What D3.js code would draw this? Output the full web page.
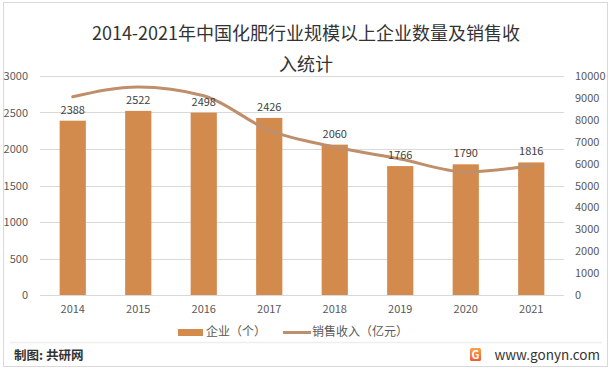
<!DOCTYPE html>
<html lang="zh">
  <head>
    <meta charset="utf-8">
    <title>化肥行业规模以上企业数量及销售收入</title>
    <script src="https://cdn.jsdelivr.net/npm/d3@7"></script>
    <style>
      body { margin: 0; background: #fff; }
      text { font-family: "Noto Sans CJK SC", "Noto Sans", sans-serif; }
      .tick text { fill: #595959; font-size: 11px; }
    </style>
  </head>
  <body>
    <script>
      var years = ["2014", "2015", "2016", "2017", "2018", "2019", "2020", "2021"];
      var companies = [2388, 2522, 2498, 2426, 2060, 1766, 1790, 1816];
      var revenue = [9050, 9500, 9100, 7520, 6760, 6210, 5620, 5900];
      var leftTicks = [0, 500, 1000, 1500, 2000, 2500, 3000];
      var rightTicks = [0, 1000, 2000, 3000, 4000, 5000, 6000, 7000, 8000, 9000, 10000];

      var W = 612, H = 370;
      var margin = {top: 76, right: 48, bottom: 75, left: 40},
          width = W - margin.left - margin.right,
          height = H - margin.top - margin.bottom;

      var svg = d3.select("body").append("svg")
        .attr("width", W).attr("height", H);

      // frame
      svg.append("rect")
        .attr("x", 3.5).attr("y", 2.5).attr("width", 604).attr("height", 364)
        .attr("fill", "none").attr("stroke", "#d9d9d9");

      // title
      svg.append("text").attr("x", 306).attr("y", 40)
        .attr("text-anchor", "middle").attr("font-size", 18).attr("fill", "#333")
        .text("2014-2021年中国化肥行业规模以上企业数量及销售收");
      svg.append("text").attr("x", 306).attr("y", 71)
        .attr("text-anchor", "middle").attr("font-size", 18).attr("fill", "#333")
        .text("入统计");

      var g = svg.append("g")
        .attr("transform", "translate(" + margin.left + "," + margin.top + ")");

      var x = d3.scaleBand().domain(years).range([0, width]).paddingInner(0.6).paddingOuter(0.3);
      var y = d3.scaleLinear().domain([0, 3000]).range([height, 0]);
      var y2 = d3.scaleLinear().domain([0, 10000]).range([height, 0]);

      // gridlines
      g.append("g").selectAll("line").data(leftTicks).enter().append("line")
        .attr("x1", 0).attr("x2", width)
        .attr("y1", d => Math.round(y(d)) + 0.5).attr("y2", d => Math.round(y(d)) + 0.5)
        .attr("stroke", "#d9d9d9");

      // axes
      var left = g.append("g")
        .call(d3.axisLeft(y).tickValues(leftTicks).tickFormat(d3.format("d")).tickSize(0).tickPadding(12));
      left.select(".domain").remove();

      var right = g.append("g").attr("transform", "translate(" + width + ",0)")
        .call(d3.axisRight(y2).tickValues(rightTicks).tickFormat(d3.format("d")).tickSize(0).tickPadding(11));
      right.select(".domain").remove();

      var bottom = g.append("g").attr("transform", "translate(0," + height + ")")
        .call(d3.axisBottom(x).tickSize(0).tickPadding(10));
      bottom.select(".domain").remove();

      // bars
      g.selectAll(".bar").data(companies).enter().append("rect")
        .attr("class", "bar")
        .attr("x", (d, i) => x(years[i]))
        .attr("width", x.bandwidth())
        .attr("y", d => y(d))
        .attr("height", d => height - y(d))
        .attr("fill", "#d38b4d");

      // revenue line
      var line = d3.line()
        .x((d, i) => x(years[i]) + x.bandwidth() / 2)
        .y(d => y2(d))
        .curve(d3.curveMonotoneX);

      g.append("path").datum(revenue)
        .attr("d", line)
        .attr("fill", "none")
        .attr("stroke", "#bf8e6b")
        .attr("stroke-width", 3)
        .attr("stroke-linecap", "round");

      // bar labels
      g.selectAll(".lbl").data(companies).enter().append("text")
        .attr("x", (d, i) => x(years[i]) + x.bandwidth() / 2)
        .attr("y", d => y(d) - 7)
        .attr("text-anchor", "middle")
        .attr("font-size", 11)
        .attr("fill", "#404040")
        .text(d => d);

      // legend
      var lg = svg.append("g").attr("transform", "translate(0,332)");
      lg.append("rect").attr("x", 178).attr("y", -3).attr("width", 25).attr("height", 7).attr("fill", "#d38b4d");
      lg.append("text").attr("x", 206).attr("y", 4).attr("font-size", 12).attr("fill", "#595959").text("企业（个）");
      lg.append("line").attr("x1", 283).attr("x2", 311).attr("y1", 0.5).attr("y2", 0.5)
        .attr("stroke", "#bf8e6b").attr("stroke-width", 3);
      lg.append("text").attr("x", 312).attr("y", 4).attr("font-size", 12).attr("fill", "#595959").text("销售收入（亿元）");

      // footer
      svg.append("line").attr("x1", 10).attr("x2", 602).attr("y1", 342.5).attr("y2", 342.5)
        .attr("stroke", "#eeeeee").attr("stroke-width", 1.5);
      svg.append("text").attr("x", 14).attr("y", 360).attr("font-size", 12.5)
        .attr("font-weight", "bold").attr("fill", "#333").text("制图: 共研网");

      var logo = svg.append("g").attr("transform", "translate(470,348)");
      var grad = svg.append("defs").append("linearGradient").attr("id", "lg1")
        .attr("x1", 0).attr("y1", 0).attr("x2", 0).attr("y2", 1);
      grad.append("stop").attr("offset", 0).attr("stop-color", "#f7a34a");
      grad.append("stop").attr("offset", 1).attr("stop-color", "#ee5a3a");
      logo.append("rect").attr("width", 11).attr("height", 13).attr("rx", 1.5).attr("fill", "url(#lg1)");
      logo.append("text").attr("x", 5.5).attr("y", 11).attr("text-anchor", "middle")
        .attr("font-size", 11).attr("font-weight", "bold").attr("fill", "#fff").text("G");

      svg.append("text").attr("x", 600).attr("y", 360).attr("text-anchor", "end")
        .attr("font-size", 13.5).attr("fill", "#333").text("www.gonyn.com");
    </script>
  </body>
</html>
